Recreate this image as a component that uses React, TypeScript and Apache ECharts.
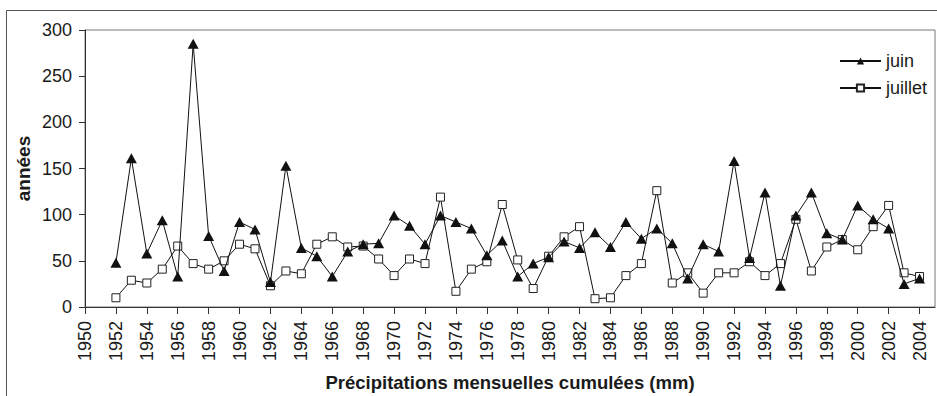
import React, { useEffect, useRef } from "react";
import * as echarts from "echarts";

const years = [
  1952, 1953, 1954, 1955, 1956, 1957, 1958, 1959, 1960, 1961, 1962, 1963, 1964,
  1965, 1966, 1967, 1968, 1969, 1970, 1971, 1972, 1973, 1974, 1975, 1976, 1977,
  1978, 1979, 1980, 1981, 1982, 1983, 1984, 1985, 1986, 1987, 1988, 1989, 1990,
  1991, 1992, 1993, 1994, 1995, 1996, 1997, 1998, 1999, 2000, 2001, 2002, 2003,
  2004,
];

const juin = [
  48, 161, 58, 94, 33, 285, 77, 39, 92, 84, 27, 153, 64,
  55, 33, 60, 68, 69, 99, 88, 68, 99, 92, 85, 56, 72,
  33, 47, 54, 71, 64, 81, 65, 92, 74, 85, 69, 31, 68,
  60, 158, 53, 124, 23, 99, 124, 80, 73, 110, 95, 85, 25,
  31,
];

const juillet = [
  10, 29, 26, 41, 66, 47, 41, 50, 68, 63, 23, 39, 36,
  68, 76, 65, 66, 52, 34, 52, 47, 119, 17, 41, 49, 111,
  51, 20, 55, 76, 87, 9, 10, 34, 47, 126, 26, 37, 15,
  37, 37, 49, 34, 47, 95, 39, 65, 73, 62, 87, 110, 37,
  33,
];

const FONT = "'Liberation Sans', Arial, sans-serif";
const INK = "#1a1a1a";

export default function App() {
  const ref = useRef<HTMLDivElement>(null);

  useEffect(() => {
    if (!ref.current) return;
    const chart = echarts.init(ref.current, undefined, { renderer: "svg" });
    chart.setOption({
      animation: false,
      backgroundColor: "#ffffff",
      textStyle: { fontFamily: FONT, color: INK },
      graphic: [
        {
          type: "rect",
          shape: { x: 6.5, y: 10.5, width: 1000, height: 500 },
          style: { fill: "none", stroke: "#555", lineWidth: 1 },
          silent: true,
        },
      ],
      grid: {
        left: 85,
        top: 30,
        right: 2,
        bottom: 89,
        containLabel: false,
        outerBoundsMode: "none",
        show: true,
        borderColor: "#777",
        borderWidth: 1,
        backgroundColor: "transparent",
      },
      legend: {
        orient: "vertical",
        left: 834,
        top: 47,
        itemWidth: 41,
        itemHeight: 9,
        itemGap: 9,
        textStyle: { fontFamily: FONT, fontSize: 18, color: INK },
        data: ["juin", "juillet"],
      },
      xAxis: {
        type: "value",
        min: 1950,
        max: 2005,
        interval: 2,
        name: "Précipitations mensuelles cumulées (mm)",
        nameLocation: "middle",
        nameGap: 66,
        nameMoveOverlap: false,
        nameTextStyle: { fontFamily: FONT, fontSize: 18.5, fontWeight: "bold", color: INK },
        splitLine: { show: false },
        axisLine: { show: true, lineStyle: { color: "#333", width: 1 } },
        axisTick: { show: true, length: 7, lineStyle: { color: "#333" } },
        axisLabel: {
          rotate: 90,
          margin: 14,
          fontSize: 18,
          color: INK,
          fontFamily: FONT,
          showMaxLabel: false,
          formatter: (v: number) => String(v),
        },
      },
      yAxis: {
        type: "value",
        min: 0,
        max: 300,
        interval: 50,
        name: "années",
        nameLocation: "middle",
        nameGap: 52,
        nameMoveOverlap: false,
        nameRotate: 90,
        nameTextStyle: { fontFamily: FONT, fontSize: 19, fontWeight: "bold", color: INK },
        splitLine: { show: false },
        axisLine: { show: true, lineStyle: { color: "#333", width: 1 } },
        axisTick: { show: true, length: 6, lineStyle: { color: "#333" } },
        axisLabel: { margin: 13, fontSize: 18, color: INK, fontFamily: FONT },
      },
      series: [
        {
          name: "juin",
          type: "line",
          data: years.map((y, i) => [y, juin[i]]),
          symbol: "triangle",
          symbolSize: [11, 10],
          lineStyle: { color: "#111", width: 1 },
          itemStyle: { color: "#111", borderColor: "#111", borderWidth: 0 },
          z: 3,
        },
        {
          name: "juillet",
          type: "line",
          data: years.map((y, i) => [y, juillet[i]]),
          symbol: "rect",
          symbolSize: 8,
          lineStyle: { color: "#111", width: 1 },
          itemStyle: { color: "#ffffff", borderColor: "#222", borderWidth: 1 },
          z: 2,
        },
      ],
    });
    return () => chart.dispose();
  }, []);

  return (
    <div
      ref={ref}
      style={{ position: "fixed", left: 0, top: 0, width: 937, height: 396 }}
    />
  );
}
